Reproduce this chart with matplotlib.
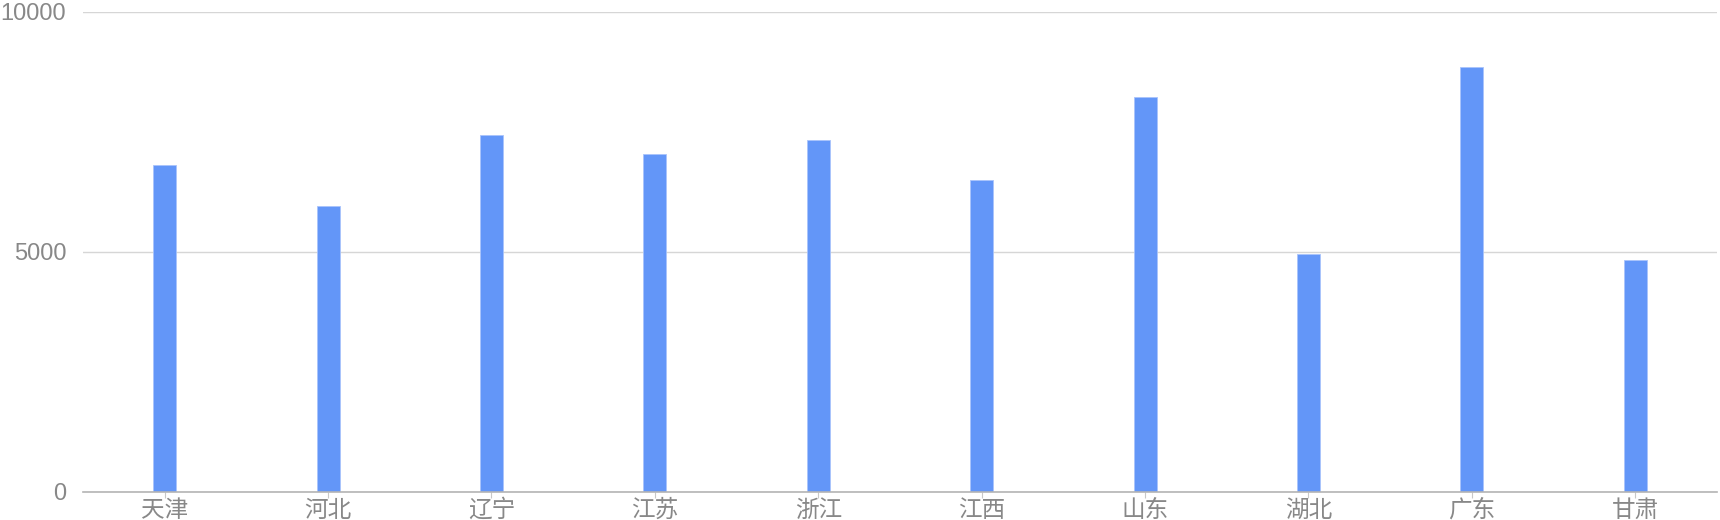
import matplotlib
matplotlib.use('Agg')
import matplotlib.pyplot as plt

# --- DADOS ---
provincias = ['天津', '河北', '辽宁', '江苏', '浙江', '江西', '山东', '湖北', '广东', '甘肃']
valores = [6810, 5960, 7440, 7040, 7330, 6500, 8230, 4960, 8850, 4830]
ticks_y = [0, 5000, 10000]

COR_BARRA = '#6396f8'
COR_TEXTO = '#888888'

plt.rcParams['font.family'] = ['Liberation Sans', 'Noto Sans CJK SC', 'DejaVu Sans']

fig = plt.figure(figsize=(17.2, 5.2), dpi=100)
ax = fig.add_axes([83 / 1720, 28 / 520, (1717 - 83) / 1720, (492 - 12) / 520])

x = range(len(provincias))
ax.bar(x, valores, width=0.14, color=COR_BARRA, edgecolor='#a9c4fb', linewidth=0.6, zorder=3)

ax.set_xlim(-0.5, len(provincias) - 0.5)
ax.set_ylim(0, 10000)
ax.set_yticks(ticks_y)
ax.set_yticklabels([str(v) for v in ticks_y])
ax.set_xticks(list(x))
ax.set_xticklabels(provincias, family=['Noto Sans CJK SC', 'DejaVu Sans'])

# grade e eixos
ax.grid(axis='y', color='#d6d6d6', linewidth=1.0, zorder=0)
ax.grid(axis='x', visible=False)
for lado in ['top', 'right', 'left']:
    ax.spines[lado].set_visible(False)
ax.spines['bottom'].set_color('#b4b4b4')
ax.spines['bottom'].set_linewidth(1.2)
ax.spines['bottom'].set_zorder(4)

ax.tick_params(axis='y', length=0, pad=12, labelsize=17, labelcolor=COR_TEXTO)
ax.tick_params(axis='x', length=4, width=0.8, color='#c8c8c8', pad=1, labelsize=17, labelcolor=COR_TEXTO)

fig.savefig('out.png', dpi=100, facecolor='white')
